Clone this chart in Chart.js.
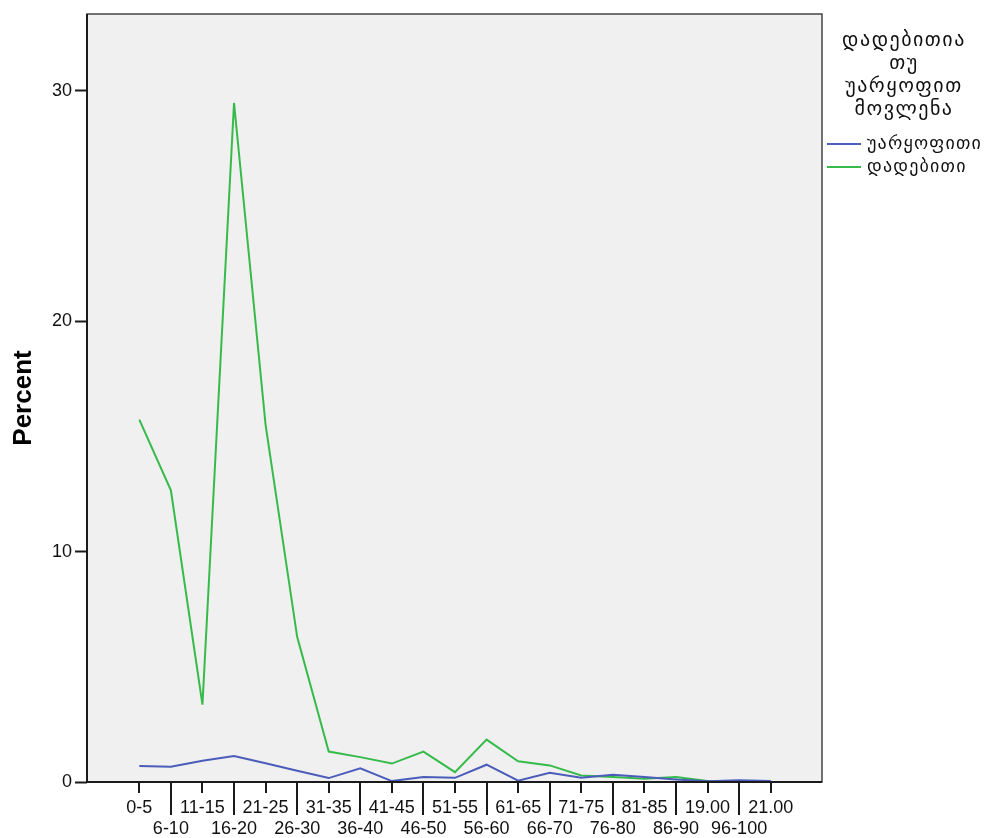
<!DOCTYPE html>
<html>
<head>
<meta charset="utf-8">
<script src="https://cdn.jsdelivr.net/npm/chart.js@4.4.1/dist/chart.umd.min.js"></script>
<style>
  html, body { margin: 0; padding: 0; background: #fff; }
  canvas { display: block; }
</style>
</head>
<body>
<canvas id="chart" width="984" height="838"></canvas>
<script>
const categories = [
  '0-5', '6-10', '11-15', '16-20', '21-25', '26-30', '31-35', '36-40',
  '41-45', '46-50', '51-55', '56-60', '61-65', '66-70', '71-75', '76-80',
  '81-85', '86-90', '19.00', '96-100', '21.00'
];
// უარყოფითი (blue)
const negativeValues = [
  0.69, 0.66, 0.92, 1.13, 0.81, 0.49, 0.17, 0.59, 0.04, 0.22, 0.18,
  0.75, 0.06, 0.40, 0.18, 0.31, 0.22, 0.11, 0.03, 0.08, 0.04
];
// დადებითი (green)
const positiveValues = [
  15.73, 12.66, 3.36, 29.47, 15.5, 6.3, 1.32, 1.08, 0.80, 1.32, 0.43,
  1.84, 0.90, 0.72, 0.28, 0.22, 0.14, 0.22, 0.04, 0.0, 0.0
];
const yTickValues = [0, 10, 20, 30];
const legendTitle = ['დადებითია', 'თუ', 'უარყოფით', 'მოვლენა'];
const seriesNames = ['უარყოფითი', 'დადებითი'];
const seriesColors = ['#4b5cba', '#36bb4a'];

const toPoints = vals => vals.map((v, i) => ({ x: i, y: v }));

const spssFrame = {
  id: 'spssFrame',
  beforeDraw(chart) {
    const { ctx, chartArea: a } = chart;
    ctx.save();
    ctx.fillStyle = '#f0f0f0';
    ctx.fillRect(a.left, a.top, a.right - a.left, a.bottom - a.top);
    ctx.restore();
  },
  afterDatasetsDraw(chart) {
    const { ctx, chartArea: a } = chart;
    const xs = chart.scales.x;
    ctx.save();
    ctx.strokeStyle = '#444';
    ctx.lineWidth = 1.5;
    ctx.strokeRect(a.left, a.top, a.right - a.left, a.bottom - a.top);
    ctx.strokeStyle = '#1a1a1a';
    ctx.lineWidth = 2;
    ctx.beginPath();
    ctx.moveTo(a.left, a.top);
    ctx.lineTo(a.left, a.bottom);
    ctx.lineTo(a.right, a.bottom);
    ctx.stroke();
    // alternating short / long tick marks
    ctx.beginPath();
    xs.ticks.forEach((t, i) => {
      const x = Math.round(xs.getPixelForTick(i));
      ctx.moveTo(x, a.bottom);
      ctx.lineTo(x, a.bottom + (i % 2 ? 33 : 11));
    });
    ctx.stroke();
    ctx.restore();
  },
  afterDraw(chart) {
    const { ctx } = chart;
    const cx = 904;
    ctx.save();
    ctx.fillStyle = '#111';
    ctx.textAlign = 'center';
    ctx.textBaseline = 'middle';
    ctx.font = '20px "DejaVu Sans"';
    ctx.letterSpacing = '1.5px';
    legendTitle.forEach((line, i) => ctx.fillText(line, cx, 41 + i * 23));
    ctx.textAlign = 'left';
    ctx.font = '18px "DejaVu Sans"';
    ctx.letterSpacing = '1.2px';
    chart.data.datasets.forEach((ds, i) => {
      const y = 144 + i * 23;
      ctx.strokeStyle = ds.borderColor;
      ctx.lineWidth = 2;
      ctx.beginPath();
      ctx.moveTo(827, y);
      ctx.lineTo(861, y);
      ctx.stroke();
      ctx.fillText(ds.label, 867, y);
    });
    ctx.restore();
  }
};

new Chart(document.getElementById('chart'), {
  type: 'line',
  data: {
    datasets: [
      {
        label: seriesNames[0],
        data: toPoints(negativeValues),
        borderColor: seriesColors[0],
        borderWidth: 2,
        pointRadius: 0,
        tension: 0
      },
      {
        label: seriesNames[1],
        data: toPoints(positiveValues),
        borderColor: seriesColors[1],
        borderWidth: 2,
        pointRadius: 0,
        tension: 0
      }
    ]
  },
  options: {
    responsive: false,
    animation: false,
    devicePixelRatio: 1,
    layout: { padding: { left: 0, right: 162, top: 14, bottom: 0 } },
    plugins: {
      legend: { display: false },
      tooltip: { enabled: false }
    },
    scales: {
      x: {
        type: 'linear',
        min: -1.657,
        max: 21.625,
        afterBuildTicks: scale => {
          scale.ticks = categories.map((c, i) => ({ value: i }));
        },
        afterFit: scale => { scale.height = 56; },
        grid: { display: false, drawTicks: false, tickLength: 0 },
        border: { display: false },
        ticks: {
          autoSkip: false,
          maxRotation: 0,
          minRotation: 0,
          padding: 15,
          color: '#111',
          font: { family: '"Liberation Sans", Arial, sans-serif', size: 18, lineHeight: 1.2 },
          callback: v => (v % 2 ? ['', categories[v]] : [categories[v]])
        }
      },
      y: {
        min: 0,
        max: 33.33,
        afterBuildTicks: scale => {
          scale.ticks = yTickValues.map(v => ({ value: v }));
        },
        afterFit: scale => { scale.width = 87; },
        grid: {
          display: true,
          drawOnChartArea: false,
          drawTicks: true,
          tickLength: 12,
          tickColor: '#1a1a1a',
          tickWidth: 2
        },
        border: { display: false },
        ticks: {
          padding: 3,
          color: '#111',
          font: { family: '"Liberation Sans", Arial, sans-serif', size: 18 }
        },
        title: {
          display: true,
          text: 'Percent',
          color: '#000',
          padding: { top: 8, bottom: 0 },
          font: { family: '"Liberation Sans", Arial, sans-serif', size: 26, weight: 'bold' }
        }
      }
    }
  },
  plugins: [spssFrame]
});
</script>
</body>
</html>
